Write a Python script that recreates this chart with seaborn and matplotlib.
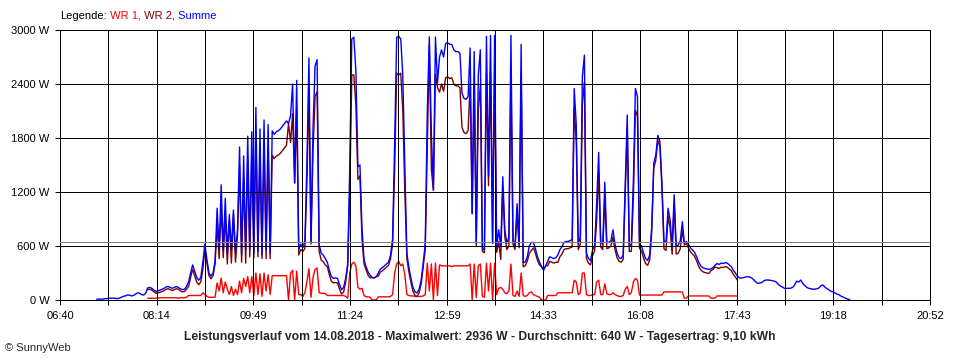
import numpy as np
import pandas as pd
import seaborn as sns
import matplotlib.pyplot as plt

# Summe (W), one value every 2 minutes starting 07:16
summe = [
    10, 10, 10, 10, 15, 15, 20, 20, 20, 20, 15, 20, 30, 40, 45, 55, 55, 45, 50, 65, 80, 75, 60, 55, 75,
    135, 140, 130, 110, 95, 100, 110, 120, 130, 145, 150, 140, 130, 140, 150, 140, 125, 115, 120, 150, 200, 300, 390, 320, 250,
    220, 250, 420, 620, 450, 300, 265, 300, 430, 1020, 560, 1280, 550, 1130, 520, 950, 560, 1000, 540, 780, 1700, 500, 1600, 560, 1820,
    560, 1870, 520, 2140, 540, 1900, 500, 2000, 560, 1950, 520, 1880, 1840, 1870, 1880, 1900, 1930, 1960, 1990, 1960, 2050, 2400, 1300, 2440, 560,
    620, 580, 650, 1500, 2690, 650, 1900, 2600, 2670, 620, 520, 500, 460, 420, 330, 260, 240, 245, 240, 170, 115, 140, 240, 400, 1480,
    2900, 2920, 2550, 1480, 1500, 800, 450, 370, 310, 275, 250, 245, 260, 300, 345, 360, 380, 400, 420, 500, 680, 1740, 2920, 2930, 2900,
    2500, 1480, 520, 360, 240, 140, 90, 78, 120, 220, 410, 620, 2090, 2925, 1850, 1220, 2920, 2410, 2700, 2780, 2700, 2850, 2860, 2840, 2840,
    2780, 2760, 2760, 2740, 2300, 2240, 2230, 2260, 2800, 960, 2760, 630, 2500, 2780, 580, 555, 2930, 1370, 2940, 630, 2940, 590, 780, 590, 1370,
    780, 630, 700, 2940, 670, 600, 1070, 620, 2840, 420, 420, 480, 600, 640, 640, 570, 480, 420, 370, 333, 380, 430, 480, 470, 460,
    470, 500, 560, 590, 640, 650, 650, 660, 670, 2350, 1960, 620, 700, 2480, 2720, 520, 460, 440, 555, 600, 1070, 1640, 650, 620, 1310,
    640, 640, 660, 780, 620, 520, 470, 460, 500, 1290, 2055, 600, 620, 1330, 2350, 2260, 630, 600, 520, 460, 440, 500, 810, 1520, 1610,
    1830, 1760, 1300, 660, 640, 1020, 890, 600, 1170, 600, 610, 660, 870, 630, 650, 620, 580, 555, 530, 480, 420, 380, 360, 350, 345,
    340, 345, 360, 385, 405, 395, 410, 405, 415, 410, 390, 370, 330, 300, 265, 245, 244, 250, 255, 260, 255, 244, 225, 200, 185,
    188, 195, 215, 222, 222, 220, 215, 210, 200, 175, 155, 145, 130, 130, 130, 130, 140, 165, 210, 200, 222, 185, 160, 140, 130,
    125, 120, 120, 125, 135, 160, 165, 140, 125, 110, 95, 90, 75, 65, 55, 40, 30, 20, 10, 5,
]

# WR 1 (W), one value every 2 minutes starting 08:06
wr1 = [
    20, 20, 20, 20, 20, 20, 25, 25, 25, 25, 25, 25, 25, 25, 25, 20, 25, 25, 25, 30, 50, 50, 50, 50, 50,
    50, 50, 80, 60, 40, 30, 30, 30, 30, 190, 100, 245, 80, 200, 120, 60, 150, 50, 120, 60, 210, 80, 240, 150, 260,
    80, 260, 50, 300, 60, 290, 40, 300, 100, 280, 60, 270, 270, 270, 270, 270, 270, 270, 270, 0, 300, 330, 0, 320, 60,
    60, 40, 80, 200, 350, 30, 250, 340, 355, 80, 75, 75, 70, 50, 50, 50, 50, 50, 50, 50, 50, 50, 40, 20, 300,
    400, 420, 380, 140, 120, 130, 50, 35, 35, 30, 0, 0, 0, 35, 35, 35, 35, 35, 35, 40, 60, 300, 400, 430, 380,
    400, 280, 60, 50, 45, 45, 40, 40, 40, 40, 45, 60, 410, 100, 400, 0, 410, 50, 390, 380, 380, 380, 380, 380, 370,
    380, 380, 380, 380, 380, 380, 380, 380, 400, 0, 400, 30, 380, 400, 40, 30, 410, 100, 410, 0, 410, 60, 130, 140, 120,
    80, 70, 100, 400, 50, 40, 100, 40, 300, 50, 40, 50, 80, 90, 60, 50, 40, 30, 0, 0, 0, 50, 50, 50, 50,
    50, 80, 80, 80, 80, 80, 80, 80, 80, 220, 200, 60, 80, 300, 300, 60, 50, 50, 60, 60, 200, 220, 60, 60, 180,
    70, 60, 60, 80, 60, 50, 40, 40, 50, 120, 150, 60, 80, 200, 240, 220, 55, 55, 55, 55, 55, 55, 55, 55, 55,
    55, 55, 55, 90, 90, 90, 90, 90, 90, 90, 90, 90, 90, 20, 20, 45, 45, 45, 45, 45, 45, 45, 45, 45, 45,
    45, 20, 20, 20, 45, 45, 45, 45, 45, 45, 45, 45, 45, 45, 45,
]

summe_start = "2018-08-14 07:16"
wr_start = "2018-08-14 08:06"
axis_start = "2018-08-14 06:40:00"
axis_end = "2018-08-14 20:52:45"
durchschnitt = 640
y_ticks = [0, 600, 1200, 1800, 2400, 3000]
title_text = ("Leistungsverlauf vom 14.08.2018 - Maximalwert: 2936 W - "
              "Durchschnitt: 640 W - Tagesertrag: 9,10 kWh")

colors = {"WR 1": "#ff0000", "WR 2": "#800000", "Summe": "#0000ff"}

# build series (WR 2 is the rest of the sum)
s_sum = pd.Series(summe, index=pd.date_range(summe_start, periods=len(summe), freq="2min"), dtype=float)
s_wr1 = pd.Series(wr1, index=pd.date_range(wr_start, periods=len(wr1), freq="2min"), dtype=float)
s_wr2 = s_sum.loc[s_wr1.index] - s_wr1

frames = []
for name, s in [("WR 1", s_wr1), ("WR 2", s_wr2), ("Summe", s_sum)]:
    frames.append(pd.DataFrame({"zeit": s.index, "leistung": s.values, "serie": name}))
df = pd.concat(frames, ignore_index=True)

sns.set_theme(style="white")
plt.rcParams["font.family"] = ["Liberation Sans", "DejaVu Sans"]
plt.rcParams["font.size"] = 8

fig = plt.figure(figsize=(9.6, 3.6), dpi=100)
ax = fig.add_axes([60 / 960, 60 / 360, 870 / 960, 270 / 360])

sns.lineplot(data=df, x="zeit", y="leistung", hue="serie", hue_order=["WR 1", "WR 2", "Summe"],
             palette=colors, estimator=None, legend=False, linewidth=1.0, ax=ax)

ax.axhline(durchschnitt, color="#808080", linewidth=0.72, zorder=5, antialiased=False)

x_ticks = pd.date_range(axis_start, axis_end, periods=19)
ax.set_xlim(pd.Timestamp(axis_start), pd.Timestamp(axis_end))
ax.set_ylim(0, 3000)
ax.set_xticks(x_ticks)
ax.set_xticklabels([t.strftime("%H:%M") if i % 2 == 0 else "" for i, t in enumerate(x_ticks)])
ax.set_yticks(y_ticks)
ax.set_yticklabels([f"{v} W" for v in y_ticks])
ax.set_xlabel("")
ax.set_ylabel("")

ax.set_axisbelow(False)
ax.grid(True, color="black", linewidth=0.72, antialiased=False)
for sp in ax.spines.values():
    sp.set_color("black")
    sp.set_linewidth(0.72)
    sp.set_antialiased(False)
ax.tick_params(axis="both", direction="out", length=3.6, width=0.72, color="black",
               labelsize=8, labelcolor="black")
ax.tick_params(axis="x", pad=4, bottom=True)
ax.tick_params(axis="y", pad=4, left=True)

# legend line on top
fig.canvas.draw()
renderer = fig.canvas.get_renderer()
x_pos = 60 / 960
for txt, col in [("Legende:", "black"), (" WR 1,", colors["WR 1"]),
                 (" WR 2,", colors["WR 2"]), (" Summe", colors["Summe"])]:
    t = fig.text(x_pos, 1 - 16 / 360, txt, color=col, fontsize=8, ha="left", va="center")
    bb = t.get_window_extent(renderer=renderer)
    x_pos = bb.x1 / fig.bbox.width

fig.text(0.5, 1 - 337 / 360, title_text, ha="center", va="center", fontsize=8.7, fontweight="bold")
fig.text(5 / 960, 1 - 348 / 360, "\u00a9 SunnyWeb", ha="left", va="center", fontsize=8)

fig.savefig("out.png", dpi=100, facecolor="white")
